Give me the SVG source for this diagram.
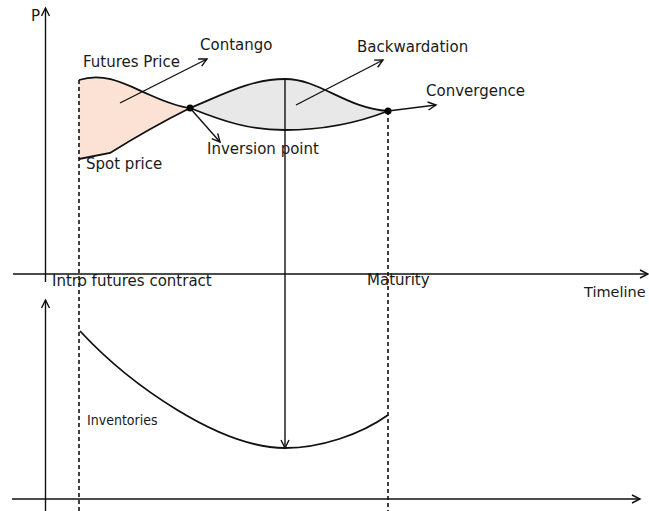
<svg xmlns="http://www.w3.org/2000/svg" width="649" height="511" viewBox="0 0 649 511">
<defs>
<marker id="arr" markerUnits="userSpaceOnUse" markerWidth="12" markerHeight="12" refX="9" refY="5" orient="auto" overflow="visible">
<path d="M1,1 L9,5 L1,9" fill="none" stroke="#111" stroke-width="1.4"/>
</marker>
</defs>
<style>
.ln{fill:none;stroke:#111;stroke-width:1.4}
.cv{fill:none;stroke:#111;stroke-width:1.8}
.ds{fill:none;stroke:#111;stroke-width:1.6;stroke-dasharray:4 3}
.t{font-family:"DejaVu Sans","Liberation Sans",sans-serif;font-size:15px;fill:#1a1a1a}
.ts{font-family:"DejaVu Sans","Liberation Sans",sans-serif;font-size:14px;font-stretch:condensed;fill:#1a1a1a}
</style>
<rect width="649" height="511" fill="#fff"/>
<g id="contango-region">
<path d="M79,80 C105,72 125,84 150,95 C168,103 180,107 190,108 Q150,128 110,153 L79,159 Z" fill="#fce2d5" stroke="none"/>
</g>
<g id="backwardation-region">
<path d="M190,108 C220,96 250,79 285,79 C320,79 345,108 388,111 C360,122 325,130 285,130 C250,130 225,122 190,108 Z" fill="#e8e8e8" stroke="none"/>
</g>
<g id="axes">
<path class="ln" d="M45.5,282 L45.5,8" marker-end="url(#arr)"/>
<path class="ln" d="M13,274 L648,274" marker-end="url(#arr)"/>
<path class="ln" d="M45.5,511 L45.5,300" marker-end="url(#arr)"/>
<path class="ln" d="M12,499 L640,499" marker-end="url(#arr)"/>
</g>
<g id="guides">
<path class="ds" d="M79,80 L79,511"/>
<path class="ds" d="M388,111 L388,511"/>
</g>
<g id="futures-price-curve">
<path class="cv" d="M79,80 C105,72 125,84 150,95 C168,103 180,107 190,108 C220,96 250,79 285,79 C320,79 345,108 388,111"/>
</g>
<g id="spot-price-curve">
<path class="cv" d="M79,159 L110,153 Q150,128 190,108 C225,122 250,130 285,130 C325,130 360,122 388,111"/>
</g>
<g id="inventories-curve">
<path class="cv" d="M80,331 C130,385 220,448 285,448 C320,448 360,435 388,415"/>
</g>
<g id="inversion-point">
<circle cx="190" cy="108" r="3.5" fill="#000"/>
</g>
<g id="convergence-point">
<circle cx="388" cy="111" r="3.5" fill="#000"/>
</g>
<g id="connectors">
<path class="ln" d="M120,103 L207,59" marker-end="url(#arr)"/>
<path class="ln" d="M296,105 L383,60" marker-end="url(#arr)"/>
<path class="ln" d="M190,108 L220,142" marker-end="url(#arr)"/>
<path class="ln" d="M388,111 L436,105" marker-end="url(#arr)"/>
<path class="ln" d="M285,79 L285,448" marker-end="url(#arr)"/>
</g>
<g id="labels">
<text class="t" x="31" y="21">P</text>
<text class="t" x="83" y="67">Futures Price</text>
<text class="t" x="200" y="50">Contango</text>
<text class="t" x="357" y="52">Backwardation</text>
<text class="t" x="426" y="96">Convergence</text>
<text class="t" x="207" y="154">Inversion point</text>
<text class="t" x="86" y="169">Spot price</text>
<text class="t" x="52" y="286">Intro futures contract</text>
<text class="t" x="367" y="285">Maturity</text>
<text class="t" x="584" y="297" style="font-size:14.5px">Timeline</text>
<text class="ts" x="87" y="425">Inventories</text>
</g>
</svg>
